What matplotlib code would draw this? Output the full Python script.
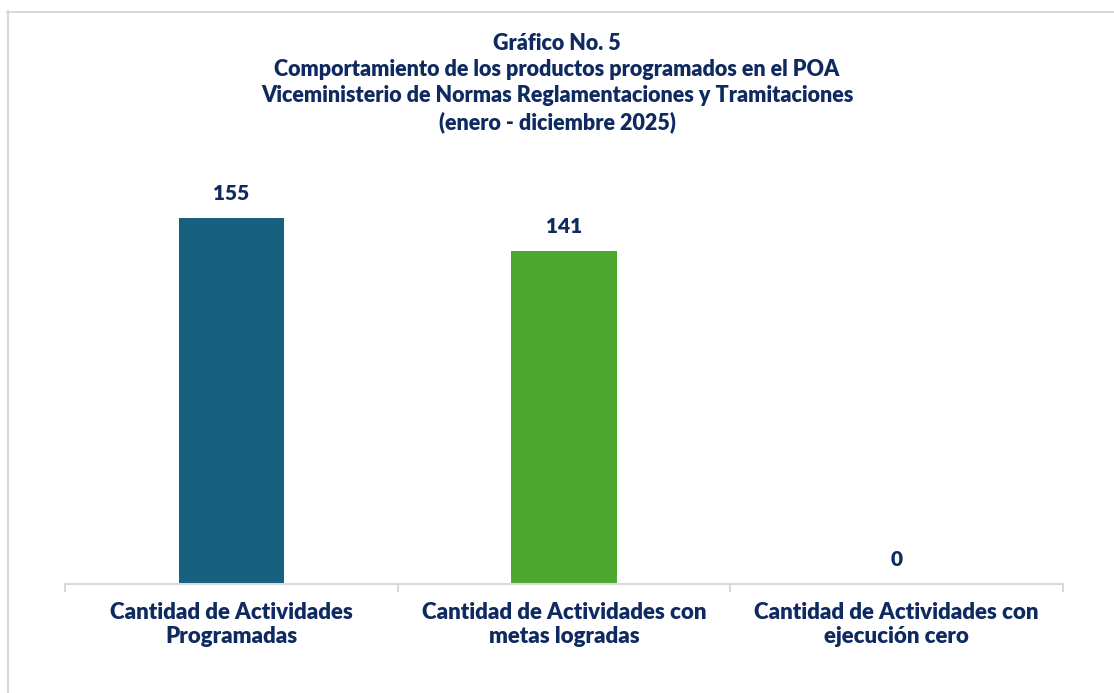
import matplotlib.pyplot as plt
from matplotlib.lines import Line2D

# Datos del grafico
categorias = ["Cantidad de Actividades\nProgramadas",
              "Cantidad de Actividades con\nmetas logradas",
              "Cantidad de Actividades con\nejecución cero"]
valores = [155, 141, 0]
colores = ["#17607F", "#4EA72E", "#4EA72E"]

titulo = ("Gráfico No. 5\n"
          "Comportamiento de los productos programados en el POA\n"
          "Viceministerio de Normas Reglamentaciones y Tramitaciones\n"
          "(enero - diciembre 2025)")

navy = "#0F2A60"
gris = "#D9D9D9"
plt.rcParams['font.family'] = ['Lato', 'DejaVu Sans']

fig = plt.figure(figsize=(11.14, 6.93), dpi=100)
ax = fig.add_axes([65 / 1114, 1 - 584 / 693, 998 / 1114, 425 / 693])

x = range(len(categorias))
barras = ax.bar(x, valores, color=colores, width=0.316)
ax.set_xlim(-0.5, 2.5)
ax.set_ylim(0, 180)

# Etiquetas de valores
for xi, v in zip(x, valores):
    ax.annotate(str(v), (xi, v), xytext=(0, 11), textcoords="offset points",
                ha="center", va="bottom", fontsize=15, fontweight="heavy", color=navy)

# Ejes
for s in ["top", "right", "left"]:
    ax.spines[s].set_visible(False)
ax.spines["bottom"].set_color(gris)
ax.spines["bottom"].set_linewidth(1.5)
ax.set_yticks([])
ax.set_xticks([-0.5, 0.5, 1.5, 2.5])
ax.set_xticklabels([])
ax.tick_params(axis="x", which="major", length=6, width=1.5, color=gris)
ax.set_xticks(list(x), minor=True)
ax.set_xticklabels(categorias, minor=True, fontsize=16, fontweight="heavy",
                   color=navy, linespacing=1.2)
ax.tick_params(axis="x", which="minor", length=0, pad=13)

# Titulo
fig.text(557 / 1114, 1 - 33 / 693, titulo, ha="center", va="top", fontsize=15.5,
         fontweight="heavy", color=navy, linespacing=1.3)

# Borde del grafico
fig.add_artist(Line2D([7 / 1114, 1], [1 - 11.5 / 693, 1 - 11.5 / 693], color=gris, lw=1.5))
fig.add_artist(Line2D([7.5 / 1114, 7.5 / 1114], [0, 1 - 11 / 693], color=gris, lw=1.5))

fig.savefig("out.png", dpi=100)
